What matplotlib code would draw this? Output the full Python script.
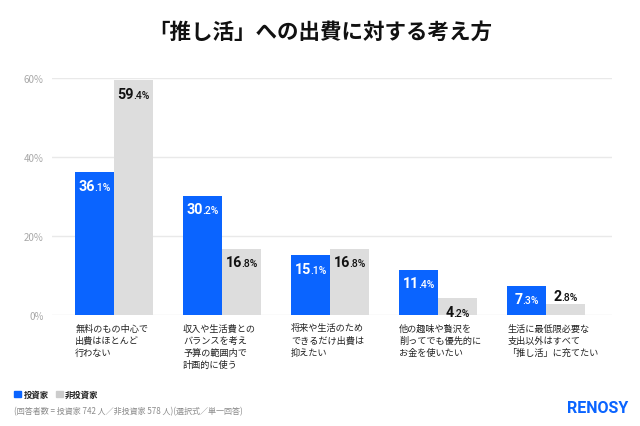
import matplotlib
matplotlib.use("Agg")
import matplotlib.pyplot as plt
from matplotlib.offsetbox import TextArea, HPacker, AnnotationBbox
from matplotlib.patches import Rectangle

plt.rcParams['font.family'] = ['Noto Sans CJK JP', 'DejaVu Sans']

title = "「推し活」への出費に対する考え方"
categories = [
    "無料のもの中心で\n出費はほとんど\n行わない",
    "収入や生活費との\nバランスを考え\n予算の範囲内で\n計画的に使う",
    "将来や生活のため\nできるだけ出費は\n抑えたい",
    "他の趣味や贅沢を\n削ってでも優先的に\nお金を使いたい",
    "生活に最低限必要な\n支出以外はすべて\n「推し活」に充てたい",
]
investor = [36.1, 30.2, 15.1, 11.4, 7.3]
non_investor = [59.4, 16.8, 16.8, 4.2, 2.8]
series_names = ["投資家", "非投資家"]
yticks = [0, 20, 40, 60]
footnote = "(回答者数 = 投資家 742 人／非投資家 578 人)(選択式／単一回答)"
brand = "RENOSY"

BLUE = "#0a64ff"
GREY = "#dddddd"

fig = plt.figure(figsize=(6.4, 4.27), dpi=100)
ax = fig.add_axes([52/640, 1-316/427, (612-52)/640, (316-79)/427])

w = 0.36
xs = list(range(len(categories)))
ax.bar([x - w/2 for x in xs], investor, width=w, color=BLUE, zorder=2)
ax.bar([x + w/2 for x in xs], non_investor, width=w, color=GREY, zorder=2)

ax.set_xlim(-0.574, 4.611)
ax.set_ylim(0, 60)
ax.set_yticks(yticks)
ax.set_yticklabels([f"{t}%" for t in yticks])
ax.tick_params(axis='y', length=0, pad=6, labelsize=7, labelcolor="#a8a8a8")
ax.set_xticks([])
ax.grid(axis='y', color="#e9e9e9", lw=1, zorder=0)
for s in ax.spines.values():
    s.set_visible(False)

NUMFONT = ['Roboto', 'DejaVu Sans']


def value_label(x, v, color):
    ip, dp = f"{v:.1f}".split(".")
    big = TextArea(ip, textprops=dict(fontsize=10.3, fontweight='bold', color=color,
                                      family=NUMFONT))
    small = TextArea("." + dp + "%", textprops=dict(fontsize=7.5, color=color,
                                                    fontweight='medium', family=NUMFONT))
    box = HPacker(children=[big, small], align="baseline", pad=0, sep=-0.6)
    h_px = v / 60 * (316 - 79)
    dy = -9.5 if h_px > 14 else 5.5
    ab = AnnotationBbox(box, (x, v), xybox=(0, dy), xycoords='data',
                        boxcoords="offset points", frameon=False,
                        box_alignment=(0.5, 0.5), zorder=3)
    ax.add_artist(ab)


for x, a, b in zip(xs, investor, non_investor):
    value_label(x - w/2, a, "white")
    value_label(x + w/2, b, "#111111")

for x, c in zip(xs, categories):
    ax.annotate(c, xy=(x - w, 0), xycoords=ax.get_xaxis_transform(),
                xytext=(0, -6), textcoords="offset points",
                ha='left', va='top', fontsize=6.6, color="#222222",
                linespacing=1.45)

fig.text(0.5, 1-32/427, title, ha='center', va='center', fontsize=15.5,
         fontweight='bold', color="#111111")

# legend
fig.patches.append(Rectangle((14/640, 1-398/427), 7/640, 6/427,
                             transform=fig.transFigure, color=BLUE))
fig.text(24/640, 1-395/427, series_names[0], ha='left', va='center',
         fontsize=6, fontweight='bold', color="#222222")
fig.patches.append(Rectangle((56/640, 1-398/427), 7/640, 6/427,
                             transform=fig.transFigure, color="#cccccc"))
fig.text(65/640, 1-395/427, series_names[1], ha='left', va='center',
         fontsize=6, fontweight='bold', color="#222222")

fig.text(14/640, 1-412/427, footnote, ha='left', va='center',
         fontsize=5.8, color="#8a8a8a")

fig.text(628/640, 1-408.5/427, brand, ha='right', va='center',
         fontsize=11.5, fontweight='bold', color=BLUE,
         family=['Roboto', 'DejaVu Sans'])

fig.savefig("out.png", dpi=100)
